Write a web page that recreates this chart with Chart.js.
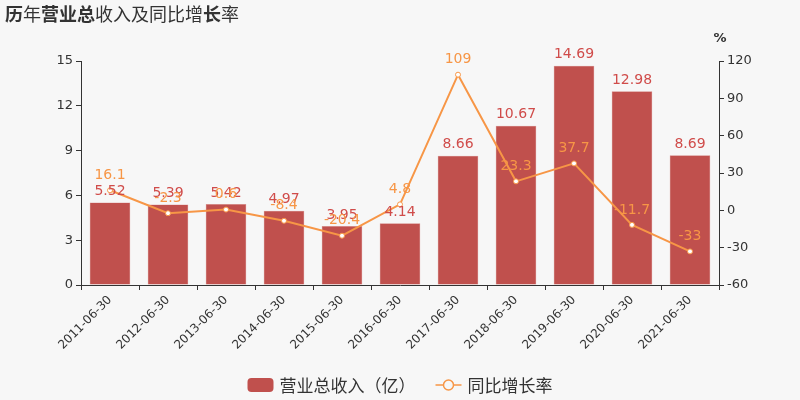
<!DOCTYPE html>
<html>
<head>
<meta charset="utf-8">
<script src="https://cdn.jsdelivr.net/npm/chart.js@4"></script>
<style>
  html, body { margin: 0; padding: 0; background: #f7f7f7; }
  #wrap { width: 800px; height: 400px; position: relative; }
</style>
</head>
<body>
<div id="wrap"><canvas id="myChart" width="800" height="400"></canvas></div>
<script>
const categories = ["2011-06-30", "2012-06-30", "2013-06-30", "2014-06-30", "2015-06-30", "2016-06-30",
  "2017-06-30", "2018-06-30", "2019-06-30", "2020-06-30", "2021-06-30"];
const revenue = [5.52, 5.39, 5.42, 4.97, 3.95, 4.14, 8.66, 10.67, 14.69, 12.98, 8.69];
const growth = [16.1, -2.3, 0.6, -8.4, -20.4, 4.8, 109, 23.3, 37.7, -11.7, -33];
const leftTicks = [0, 3, 6, 9, 12, 15];
const rightTicks = [-60, -30, 0, 30, 60, 90, 120];

const barColor = "#c0504d";
const lineColor = "#f79646";
const textColor = "#333";
const fontFamily = "'DejaVu Sans', 'Noto Sans CJK SC', sans-serif";
const cjkFont = "'Noto Sans CJK SC', sans-serif";

const titlePlugin = {
  id: "titleParts",
  afterDraw(chart) {
    let ctx = chart.ctx;
    let parts = [["历", true], ["年", false], ["营业总", true], ["收入及同比增", false], ["长", true], ["率", false]];
    let x = 5;
    ctx.save();
    ctx.fillStyle = textColor;
    ctx.textBaseline = "middle";
    parts.forEach((p) => {
      ctx.font = (p[1] ? "bold " : "") + "18px " + cjkFont;
      ctx.fillText(p[0], x, 14);
      x += ctx.measureText(p[0]).width;
    });
    // unit above right axis
    let yr = chart.scales.y1;
    ctx.font = "bold 13px " + fontFamily;
    ctx.textAlign = "center";
    ctx.fillText("%", yr.left + 1, 39);

    // legend, drawn by hand so the spacing matches
    ctx.font = "17px " + cjkFont;
    ctx.textAlign = "left";
    let names = chart.data.datasets.map((ds) => ds.label);
    let total = 0;
    names.forEach((n, i) => {
      total += 26 + 6 + ctx.measureText(n).width;
      if (i > 0) total += 20;
    });
    let lx = (chart.width - total) / 2;
    let ly = 385;
    names.forEach((n, i) => {
      if (i == 0) {
        ctx.fillStyle = barColor;
        ctx.beginPath();
        ctx.roundRect(lx, ly - 7, 26, 14, 4);
        ctx.fill();
      } else {
        ctx.strokeStyle = lineColor;
        ctx.lineWidth = 1.5;
        ctx.beginPath();
        ctx.moveTo(lx, ly);
        ctx.lineTo(lx + 26, ly);
        ctx.stroke();
        ctx.fillStyle = "#f7f7f7";
        ctx.beginPath();
        ctx.arc(lx + 13, ly, 5, 0, Math.PI * 2);
        ctx.fill();
        ctx.stroke();
      }
      lx += 32;
      ctx.fillStyle = textColor;
      ctx.fillText(n, lx, ly + 1);
      lx += ctx.measureText(n).width + 20;
    });
    ctx.restore();
  },
};

const labelPlugin = {
  id: "valueLabels",
  afterDatasetsDraw(chart) {
    let ctx = chart.ctx;
    ctx.save();
    ctx.font = "14px " + fontFamily;
    ctx.textAlign = "center";
    ctx.textBaseline = "bottom";
    chart.getDatasetMeta(0).data.forEach((bar, i) => {
      ctx.fillStyle = "#d04c4a";
      ctx.fillText(revenue[i].toFixed(2), bar.x, bar.y - 4);
    });
    chart.getDatasetMeta(1).data.forEach((pt, i) => {
      ctx.fillStyle = lineColor;
      ctx.fillText(String(growth[i]), pt.x, pt.y - 8);
    });
    ctx.restore();
  },
};

const axisLook = {
  display: true,
  drawOnChartArea: false,
  drawTicks: true,
  tickLength: 5,
  color: textColor,
};

let ctx = document.getElementById("myChart").getContext("2d");
let chart = new Chart(ctx, {
  type: "bar",
  data: {
    labels: categories,
    datasets: [
      {
        type: "bar",
        label: "营业总收入（亿）",
        data: revenue,
        backgroundColor: barColor,
        borderColor: "#d98c8a",
        borderWidth: 0.5,
        categoryPercentage: 0.7,
        barPercentage: 1,
        yAxisID: "y",
        order: 2,
      },
      {
        type: "line",
        label: "同比增长率",
        data: growth,
        borderColor: lineColor,
        borderWidth: 2,
        pointRadius: 2.5,
        pointBackgroundColor: "#fff",
        pointBorderColor: lineColor,
        pointBorderWidth: 1,
        tension: 0,
        yAxisID: "y1",
        order: 1,
      },
    ],
  },
  options: {
    responsive: false,
    animation: false,
    layout: { padding: { top: 61, left: 0, right: 0, bottom: 40 } },
    plugins: {
      title: { display: false },
      tooltip: { enabled: false },
      legend: { display: false },
    },
    scales: {
      x: {
        grid: { ...axisLook, offset: true },
        border: { display: true, color: textColor },
        ticks: {
          color: textColor,
          font: { size: 12, family: fontFamily },
          minRotation: 45,
          maxRotation: 45,
          autoSkip: false,
        },
        afterFit(scale) {
          scale.height = 75;
        },
      },
      y: {
        position: "left",
        min: 0,
        max: 15,
        grid: axisLook,
        border: { display: true, color: textColor },
        ticks: {
          color: textColor,
          font: { size: 13, family: fontFamily },
          stepSize: 3,
        },
        afterBuildTicks(scale) {
          scale.ticks = leftTicks.map((v) => ({ value: v }));
        },
        afterFit(scale) {
          scale.width = 81;
        },
      },
      y1: {
        position: "right",
        min: -60,
        max: 120,
        grid: axisLook,
        border: { display: true, color: textColor },
        ticks: {
          color: textColor,
          font: { size: 13, family: fontFamily },
          stepSize: 30,
        },
        afterBuildTicks(scale) {
          scale.ticks = rightTicks.map((v) => ({ value: v }));
        },
        afterFit(scale) {
          scale.width = 81;
        },
      },
    },
  },
  plugins: [titlePlugin, labelPlugin],
});
</script>
</body>
</html>
